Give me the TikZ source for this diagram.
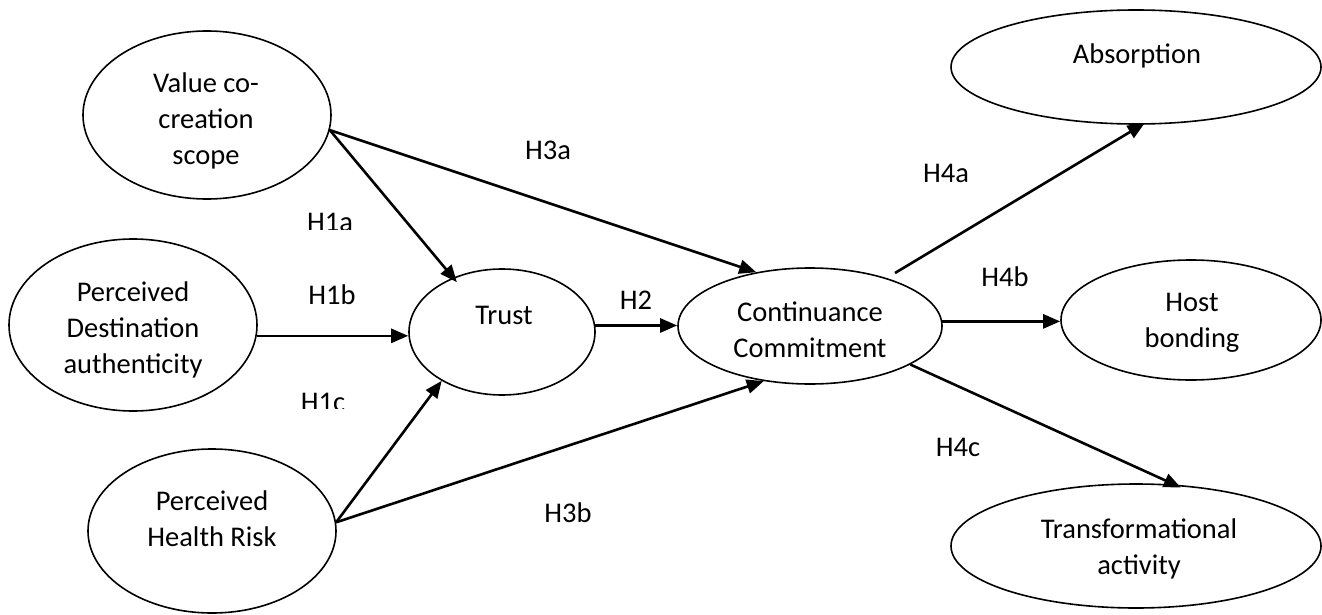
\documentclass[tikz,border=0pt]{standalone}
\usepackage{fontspec}
\setmainfont{Carlito}
\usetikzlibrary{arrows.meta,shapes.geometric}
\begin{document}
\begin{tikzpicture}[x=1pt,y=-1pt,
  ell/.style={draw, ellipse, line width=1.6pt, inner sep=0pt},
  lbl/.style={align=center, font=\fontsize{28.5}{36}\selectfont, inner sep=0pt},
  hyp/.style={font=\fontsize{28.5}{36}\selectfont, inner sep=0pt},
  arr/.style={line width=2.6pt, -{Triangle[length=17pt,width=14pt]}}]
\fill[white] (0,0) rectangle (1322,615);
\useasboundingbox (0,0) rectangle (1322,615);

% ellipses
\node[ell, minimum width=248pt, minimum height=168pt] (val) at (207,115) {};
\node[ell, minimum width=248pt, minimum height=172pt] (pda) at (133,325) {};
\node[ell, minimum width=248pt, minimum height=164pt] (phr) at (212,531) {};
\node[ell, minimum width=186pt, minimum height=126pt] (trust) at (502,332) {};
\node[ell, minimum width=264pt, minimum height=116pt] (cont) at (810,326) {};
\node[ell, minimum width=370pt, minimum height=114pt] (abs) at (1136,67) {};
\node[ell, minimum width=260pt, minimum height=120pt] (host) at (1191,320) {};
\node[ell, minimum width=370pt, minimum height=124pt] (trans) at (1136,546) {};

% texts in ellipses
\node[lbl] (valt) at (206,121) {Value co-\\creation\\scope};
\node[lbl] (pdat) at (133,330) {Perceived\\Destination\\authenticity};
\node[lbl] (phrt) at (212,519) {Perceived\\Health Risk};
\node[lbl] (trustt) at (504,315) {Trust};
\node[lbl] (contt) at (810,330) {Continuance\\Commitment};
\node[lbl] (abst) at (1137,56) {Absorption};
\node[lbl] (hostt) at (1192,323) {Host\\bonding};
\node[lbl] (transt) at (1139,549) {Transformational\\activity};

% connectors
\draw[arr, shorten >=-6pt] (val.-7) -- (trust.132);
\draw[arr] (val.-7) -- (cont.135);
\draw[arr] (pda.-5) -- (pda.-5 -| trust.west);
\draw[arr] (phr.4) -- (trust.219);
\draw[arr] (phr.4) -- (cont.230);
\draw[arr] (trust.4) -- (trust.4 -| cont.west);
\draw[arr] (cont.2) -- (cont.2 -| host.west);
\coordinate (h4astart) at (895,273);
\draw[arr, shorten >=-3pt] (h4astart) -- (abs.-84);
\draw[arr, shorten >=-7pt] (cont.-21) -- (trans.58);

% hypothesis labels
\begin{scope}
  \clip (280,190) rectangle (380,229);
  \node[hyp] (h1a) at (330,222) {H1a};
\end{scope}
\node[hyp] (h1b) at (332,295) {H1b};
\begin{scope}
  \clip (280,370) rectangle (380,408);
  \node[hyp] (h1c) at (323,402) {H1c};
\end{scope}
\node[hyp] (h2) at (636,300) {H2};
\node[hyp] (h3a) at (548,150) {H3a};
\node[hyp] (h3b) at (568,513) {H3b};
\node[hyp] (h4a) at (946,173) {H4a};
\node[hyp] (h4b) at (1005,277) {H4b};
\node[hyp] (h4c) at (958,447) {H4c};
\end{tikzpicture}
\end{document}
